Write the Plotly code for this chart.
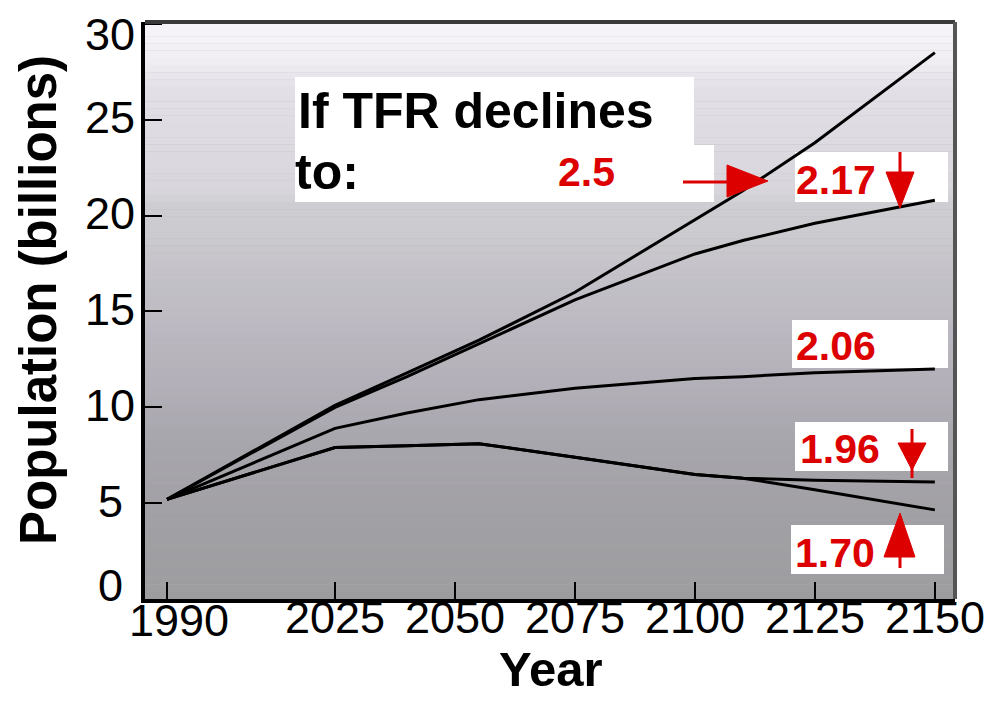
import plotly.graph_objects as go

# ---------------- data ----------------
years = [1990, 2025, 2040, 2055, 2075, 2100, 2110, 2125, 2150]
tfr_250 = [5.2, 10.1, 11.8, 13.5, 16.0, 19.8, 21.3, 23.8, 28.5]
tfr_217 = [5.2, 10.0, 11.6, 13.3, 15.6, 18.0, 18.7, 19.6, 20.8]
tfr_206 = [5.2, 8.9, 9.7, 10.4, 11.0, 11.5, 11.6, 11.8, 12.0]
tfr_196 = [5.2, 7.9, 8.0, 8.1, 7.4, 6.5, 6.3, 6.2, 6.1]
tfr_170 = [5.2, 7.9, 8.0, 8.1, 7.4, 6.5, 6.3, 5.7, 4.65]

x_ticks = [1990, 2025, 2050, 2075, 2100, 2125, 2150]
x_tick_text = ["1990", "2025", "2050", "2075", "2100", "2125", "2150"]
y_ticks = [0, 5, 10, 15, 20, 25, 30]
y_tick_text = ["0", "5", "10", "15", "20", "25", "30"]

# ---------------- layout geometry (reference pixel coordinates) ----------------
OFF = 8  # default page body margin
WIN_W, WIN_H = 996, 701
PX0, PX1 = 145, 955   # plot area left/right in window pixels
PY0, PY1 = 22, 599    # plot area top/bottom in window pixels
W, H = WIN_W - OFF, WIN_H - OFF
L, T = PX0 - OFF, PY0 - OFF
R, B = W - (PX1 - OFF), H - (PY1 - OFF)
XR = [1985.4, 2154.2]
YR = [0, 30.1]


def dx(p):
    return XR[0] + (p - PX0) / (PX1 - PX0) * (XR[1] - XR[0])


def dy(p):
    return YR[0] + (PY1 - p) / (PY1 - PY0) * (YR[1] - YR[0])


def px_paper(p):
    return (p - PX0) / (PX1 - PX0)


def py_paper(p):
    return (PY1 - p) / (PY1 - PY0)


def hexmix(c1, c2, t):
    a = [int(c1[i:i + 2], 16) for i in (1, 3, 5)]
    b = [int(c2[i:i + 2], 16) for i in (1, 3, 5)]
    return "#" + "".join(f"{round(a[k] + (b[k] - a[k]) * t):02x}" for k in range(3))


fig = go.Figure()
for name, vals in [("2.5", tfr_250), ("2.17", tfr_217), ("2.06", tfr_206),
                   ("1.96", tfr_196), ("1.70", tfr_170)]:
    fig.add_trace(go.Scatter(x=years, y=vals, mode="lines", name=name,
                             line=dict(color="black", width=3),
                             showlegend=False, hoverinfo="skip"))

shapes = []
# background gradient (pixel stops)
stops = [(22, "#f7f5f9"), (60, "#f0eef2"), (90, "#e2e0e6"), (190, "#d8d6dc"),
         (205, "#cecdd1"), (235, "#cbcace"), (300, "#c0bdc5"), (380, "#b3b0b9"),
         (440, "#a8a6ad"), (520, "#a1a0a4"), (599, "#9d9c9f")]
nb = 80
for i in range(nb):
    p0 = PY0 + (PY1 - PY0) * i / nb
    p1 = PY0 + (PY1 - PY0) * (i + 1) / nb
    pm = (p0 + p1) / 2
    col = stops[-1][1]
    for j in range(len(stops) - 1):
        if stops[j][0] <= pm <= stops[j + 1][0]:
            t = (pm - stops[j][0]) / (stops[j + 1][0] - stops[j][0])
            col = hexmix(stops[j][1], stops[j + 1][1], t)
            break
    shapes.append(dict(type="rect", xref="paper", yref="y", x0=0, x1=1,
                       y0=dy(p1), y1=dy(p0) + 0.01, fillcolor=col,
                       line=dict(width=0), layer="below"))

# white label boxes
boxes = [(295, 77, 694, 147), (295, 145, 714, 202), (795, 152, 948, 202),
         (792, 320, 948, 368), (795, 422, 948, 471), (791, 525, 944, 574)]
for x0, y0, x1, y1 in boxes:
    shapes.append(dict(type="rect", xref="x", yref="y", x0=dx(x0), x1=dx(x1),
                       y0=dy(y1), y1=dy(y0), fillcolor="white",
                       line=dict(width=0), layer="below"))

# frame top/right
shapes.append(dict(type="line", xref="paper", yref="paper", x0=0, x1=1, y0=1, y1=1,
                   line=dict(color="#3a3a3a", width=4)))
shapes.append(dict(type="line", xref="paper", yref="paper", x0=1, x1=1, y0=0, y1=1,
                   line=dict(color="#555555", width=4)))

RED = "#dd0000"


def seg(x0, y0, x1, y1, w=3):
    shapes.append(dict(type="line", xref="x", yref="y", x0=dx(x0), y0=dy(y0),
                       x1=dx(x1), y1=dy(y1), line=dict(color=RED, width=w)))


def tri(pts):
    path = "M " + " L ".join(f"{dx(a)},{dy(b)}" for a, b in pts) + " Z"
    shapes.append(dict(type="path", xref="x", yref="y", path=path,
                       fillcolor=RED, line=dict(color=RED, width=1)))


seg(683, 182, 730, 182)
tri([(727, 165), (768, 181), (727, 197)])
seg(900, 152, 900, 175)
tri([(886, 172), (914, 172), (900, 208)])
seg(912, 429, 912, 478)
tri([(898, 443), (926, 443), (912, 470)])
seg(900, 568, 900, 550)
tri([(884, 557), (915, 557), (900, 513)])

FONT = "Liberation Sans"
ann = []


def label(text, xl, yc, size, color="black"):
    ann.append(dict(text=f"<b>{text}</b>", xref="x", yref="y", x=dx(xl), y=dy(yc),
                    xanchor="left", yanchor="middle", showarrow=False,
                    font=dict(family=FONT, size=size, color=color)))


label("If TFR declines", 296, 111, 50)
label("to:", 293, 172, 50)
label("2.5", 556, 172, 41, RED)
label("2.17", 794, 180, 41, RED)
label("2.06", 794, 346, 41, RED)
label("1.96", 798, 449, 41, RED)
label("1.70", 793, 553, 41, RED)

# tick labels (placed at the axis tick values)
TICKFONT = dict(family=FONT, size=45, color="black")
for v, txt in zip(x_ticks, x_tick_text):
    xs, ys = (12, -21) if v == x_ticks[0] else (0, -18)
    ann.append(dict(text=txt, xref="x", yref="paper", x=v, y=0, xanchor="center",
                    yanchor="middle", xshift=xs, yshift=ys, showarrow=False,
                    font=TICKFONT))
for v, txt in zip(y_ticks, y_tick_text):
    ys = 14 if v == y_ticks[0] else (-11 if v == y_ticks[-1] else 2)
    ann.append(dict(text=txt, xref="paper", yref="y", x=px_paper(110), y=v,
                    xanchor="center", yanchor="middle", yshift=ys, showarrow=False,
                    font=TICKFONT))

ann.append(dict(text="<b>Population (billions)</b>", xref="paper", yref="paper",
                x=px_paper(38), y=py_paper(300),
                xanchor="center", yanchor="middle", textangle=-90, showarrow=False,
                font=dict(family=FONT, size=51, color="black")))
ann.append(dict(text="<b>Year</b>", xref="paper", yref="paper",
                x=px_paper(551), y=py_paper(669),
                xanchor="center", yanchor="middle", showarrow=False,
                font=dict(family=FONT, size=49, color="black")))

fig.update_layout(
    width=W, height=H,
    margin=dict(l=L, r=R, t=T, b=B),
    paper_bgcolor="white", plot_bgcolor="#b0b0b0",
    shapes=shapes, annotations=ann,
    xaxis=dict(range=XR, tickvals=x_ticks, showticklabels=False,
               ticks="inside", ticklen=17, tickwidth=2, tickcolor="black",
               showline=True, linecolor="black", linewidth=4, showgrid=False,
               zeroline=False),
    yaxis=dict(range=YR, tickvals=y_ticks, showticklabels=False,
               ticks="inside", ticklen=17, tickwidth=2, tickcolor="black",
               showline=True, linecolor="black", linewidth=4, showgrid=False,
               zeroline=False),
)

fig.write_html("out.html")
